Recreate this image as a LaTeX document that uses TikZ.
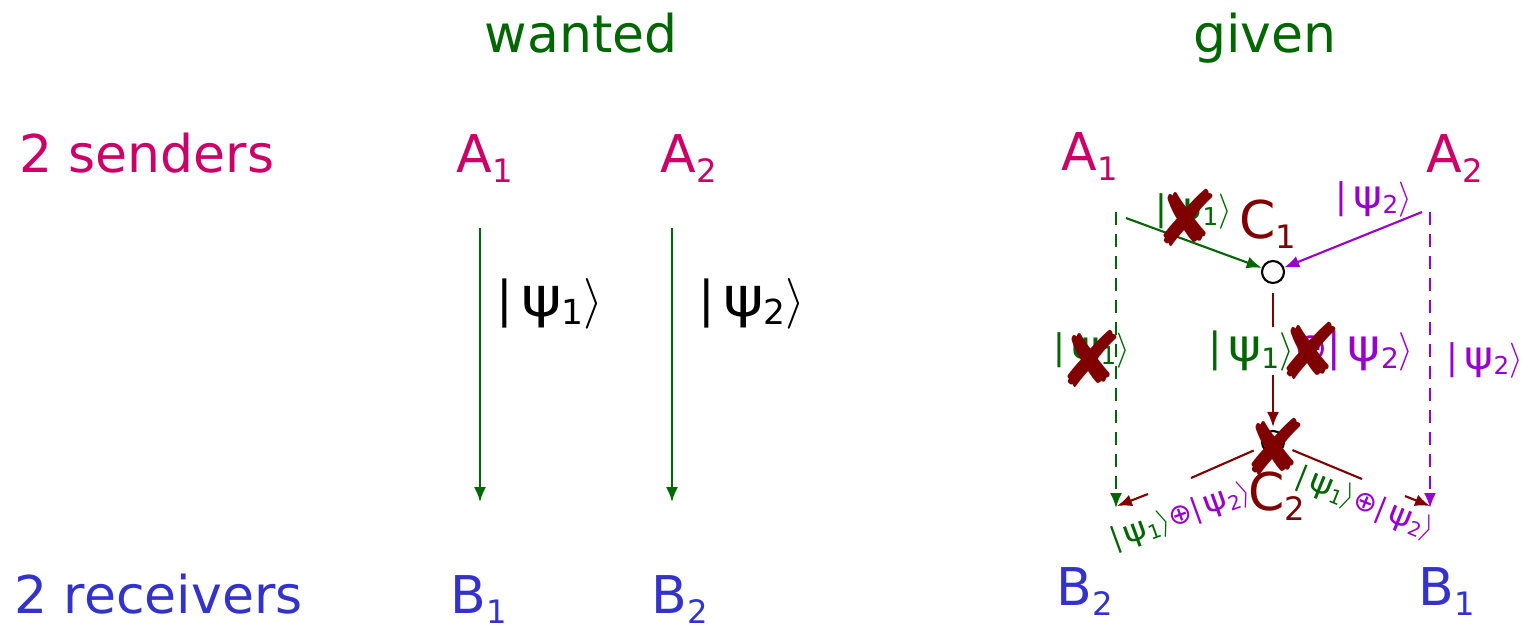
\documentclass[tikz,border=0pt]{standalone}
\usepackage{fontspec}
\setmainfont{DejaVu Sans}
\usetikzlibrary{arrows.meta}

\definecolor{hgreen}{RGB}{0,102,0}
\definecolor{sendc}{RGB}{204,0,102}
\definecolor{recvc}{RGB}{51,51,204}
\definecolor{dred}{RGB}{128,0,0}
\definecolor{vio}{RGB}{153,0,204}

\newcommand{\idx}[1]{\raisebox{-0.38ex}{\scalebox{0.62}{#1}}}
\newcommand{\kidx}[1]{\raisebox{-0.3ex}{\scalebox{0.7}{#1}}}
\newcommand{\kt}[1]{|\,\scalebox{1.25}[1.12]{ψ}\kidx{#1}$\rangle$}

\tikzset{
  lab/.style={anchor=base},
  flow/.style={line width=0.6pt, -{Latex[length=1.5mm,width=1.2mm]}},
  wire/.style={line width=0.6pt},
  dashflow/.style={flow, dash pattern=on 1.3mm off 0.9mm},
  coder/.style={circle, draw=black, fill=white, line width=0.6pt, minimum size=2.2mm, inner sep=0pt},
  kts/.style={font=\fontsize{10}{12}\selectfont},
  cross/.style={text=dred, font=\fontsize{22}{22}\selectfont}
}

\begin{document}
\begin{tikzpicture}[x=0.01cm, y=-0.01cm, every node/.style={inner sep=1pt, font=\fontsize{14.8}{17}\selectfont}]
\useasboundingbox (0,0) rectangle (1526,626);

% headings and row names
\node[lab, text=hgreen] (wanted) at (581,52) {wanted};
\node[lab, text=hgreen] (given) at (1265,52) {given};
\node[lab, anchor=base west, text=sendc] (senders) at (15,172) {2 senders};
\node[lab, anchor=base west, text=recvc] (receivers) at (10,613) {2 receivers};

% wanted
\foreach \i/\x in {1/485,2/689} {
  \node[lab, text=sendc] (a\i) at (\x,172) {A\idx{\i}};
}
\node[lab, text=recvc] (b1) at (479,613) {B\idx{1}};
\node[lab, text=recvc] (b2) at (680,613) {B\idx{2}};
\foreach \i/\x/\lx in {1/480/550,2/672/752} {
  \coordinate (s\i) at (\x,228);
  \coordinate (t\i) at (\x,502);
  \draw[flow, hgreen] (s\i) -- (t\i);
  \node[font=\fontsize{14}{16}\selectfont] (k\i) at (\lx,304) {\kt{\i}};
}

% given
\node[lab, text=sendc] (ra1) at (1090,170) {A\idx{1}};
\node[lab, text=sendc] (ra2) at (1455,172) {A\idx{2}};
\node[lab, text=recvc] (rb2) at (1085,605) {B\idx{2}};
\node[lab, text=recvc] (rb1) at (1447,605) {B\idx{1}};
\node[lab, text=dred] (c1lab) at (1268,238) {C\idx{1}};
\node[lab, text=dred] (c2lab) at (1277,510) {C\idx{2}};
\node[coder] (c1) at (1273,272) {};
\node[coder] (c2) at (1273,442) {};

\coordinate (g0) at (1126,218);
\coordinate (p0) at (1422,212);
\draw[flow, hgreen] (g0) -- (c1);
\draw[flow, vio] (p0) -- (c1);
\node[kts, text=hgreen] (kg) at (1194,211) {\kt{1}};
\node[kts, text=vio] (kp) at (1374,199) {\kt{2}};

\draw[flow, dred, shorten <=0.9mm, shorten >=0.3mm] (c1) -- (c2);
\node[fill=white, font=\fontsize{11.4}{14}\selectfont] (sum) at (1311,351)
  {\textcolor{hgreen}{\kt{1}}\textcolor{vio}{⊕\kt{2}}};

\coordinate (gd0) at (1116,212);
\coordinate (gd1) at (1116,508);
\coordinate (pd0) at (1430,212);
\coordinate (pd1) at (1430,508);
\draw[dashflow, hgreen] (gd0) -- (gd1);
\draw[dashflow, vio] (pd0) -- (pd1);
\node[kts, text=hgreen] (kgd) at (1092,350) {\kt{1}};
\node[kts, text=vio] (kpd) at (1485,360) {\kt{2}};

\coordinate (lm) at (1191,478);
\coordinate (ln) at (1148,494);
\coordinate (le) at (1117,506);
\coordinate (rm) at (1362,479);
\coordinate (rn) at (1405,496);
\coordinate (re) at (1430,506);
\draw[wire, dred, shorten <=0.9mm] (c2) -- (lm);
\draw[flow, dred] (ln) -- (le);
\draw[wire, dred, shorten <=0.9mm] (c2) -- (rm);
\draw[flow, dred] (rn) -- (re);
\node[rotate=20, font=\fontsize{8}{10}\selectfont] (sl) at (1181,517)
  {\textcolor{hgreen}{\kt{1}}\textcolor{vio}{⊕\kt{2}}};
\node[rotate=-22, font=\fontsize{8}{10}\selectfont] (sr) at (1365,504)
  {\textcolor{hgreen}{\kt{1}}\textcolor{vio}{⊕\kt{2}}};

% crossed out
\foreach \n/\x/\y in {x1/1187/218, x2/1091/359, x3/1310/351, x4/1275/447} {
  \node[cross] (\n) at (\x,\y) {✘};
}
\end{tikzpicture}
\end{document}
